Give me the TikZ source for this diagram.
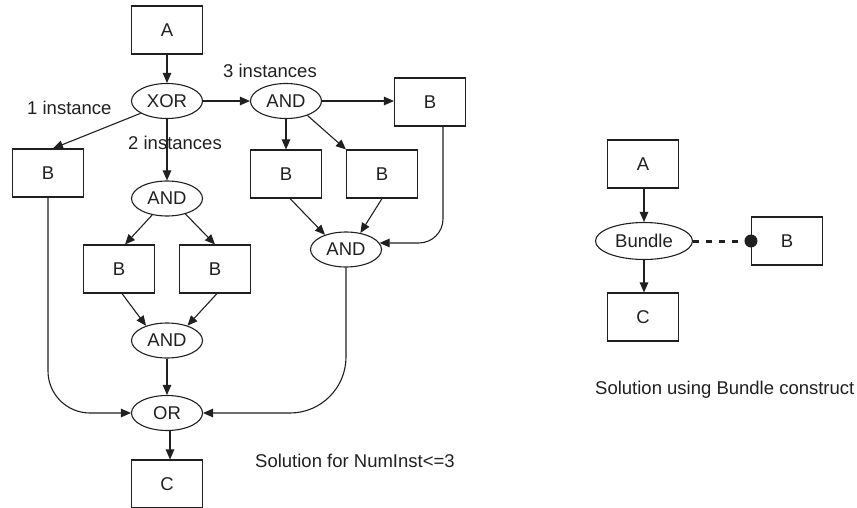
\documentclass[tikz,border=0pt]{standalone}
\usepackage{fontspec}
\setmainfont{Liberation Sans}
\usetikzlibrary{shapes.geometric,arrows.meta}
\definecolor{ink}{HTML}{202020}
\begin{document}
\begin{tikzpicture}[x=1pt,y=-1pt,
  every node/.style={font=\fontsize{18.5}{21}\selectfont, text=ink},
  box/.style={draw=ink, line width=1.1pt, rectangle, minimum width=71pt, minimum height=48pt, inner sep=0pt},
  oval/.style={draw=ink, line width=1.1pt, ellipse, minimum width=71pt, minimum height=35pt, inner sep=0pt},
  lbl/.style={anchor=west, inner sep=0pt},
  arr/.style={draw=ink, line width=1.1pt, -{Triangle[length=10pt,width=8.5pt]}},
  ln/.style={draw=ink, line width=1.1pt}]
\useasboundingbox (0,0) rectangle (857,508);
% left diagram
\node[box]  (a)    at (167,30)  {A};
\node[oval] (xor)  at (167,101) {XOR};
\node[oval] (and3) at (286,101) {AND};
\node[box]  (br)   at (430,102) {B};
\node[box]  (b1)   at (48,173)  {B};
\node[oval] (and2) at (167,198.5) {AND};
\node[box]  (b3a)  at (286,174) {B};
\node[box]  (b3b)  at (382,174) {B};
\node[oval] (andm) at (346,249.5) {AND};
\node[box]  (b2a)  at (119,269) {B};
\node[box]  (b2b)  at (215,269) {B};
\node[oval] (andl) at (167,340.5) {AND};
\node[oval] (or)   at (167,413) {OR};
\node[box]  (c)    at (167,484) {C};
\node[lbl] (l3) at (223,71)  {3 instances};
\node[lbl] (l1) at (27,108)  {1 instance};
\node[lbl] (l2) at (128,143) {2 instances};
\node[lbl] (sol1) at (255,461) {Solution for NumInst<=3};
\draw[arr] (a) -- (xor);
\draw[arr] (xor) -- (and3);
\draw[arr] (and3.east) -- (br.west |- and3.east);
\draw[arr] (xor.205) -- ([xshift=5pt]b1.north);
\draw[arr] (xor.south) -- (and2.north);
\draw[arr] (and3.south) -- (b3a.north);
\draw[arr] (and3.-34) -- (b3b.north west);
\draw[arr] ([xshift=4pt]b3a.south) -- (andm.145);
\draw[arr] (b3b.south) -- (andm.49);
\draw[arr, rounded corners=24pt] ([xshift=13pt]br.south) |- (andm.11);
\draw[arr] (and2.-132) -- ([xshift=6pt]b2a.north);
\draw[arr] (and2.-40) -- (b2b.north);
\draw[arr] ([xshift=3pt]b2a.south) -- (andl.145);
\draw[arr] ([xshift=2pt]b2b.south) -- (andl.36);
\draw[arr] (andl) -- (or);
\draw[arr, rounded corners=42pt] (b1.south) |- (or.west);
\draw[arr, rounded corners=56pt] (andm.south) |- (or.east);
\draw[arr] ([xshift=3pt]or.south) -- ([xshift=3pt]c.north);
% right diagram
\node[box]  (ra) at (643,164) {A};
\node[oval, minimum width=97pt, minimum height=37pt] (bundle) at (644,241) {Bundle};
\node[box]  (rb) at (787,241) {B};
\node[box]  (rc) at (643,317) {C};
\node[lbl] (sol2) at (595,390) {Solution using Bundle construct};
\draw[arr] (ra.south -| bundle.north) -- (bundle.north);
\draw[arr] (bundle.south) -- (rc.north -| bundle.south);
\draw[draw=ink, line width=3pt, dash pattern=on 6pt off 7pt] (bundle.east) -- (rb.west);
\fill[ink] (rb.west) circle (6.5pt);
\end{tikzpicture}
\end{document}
